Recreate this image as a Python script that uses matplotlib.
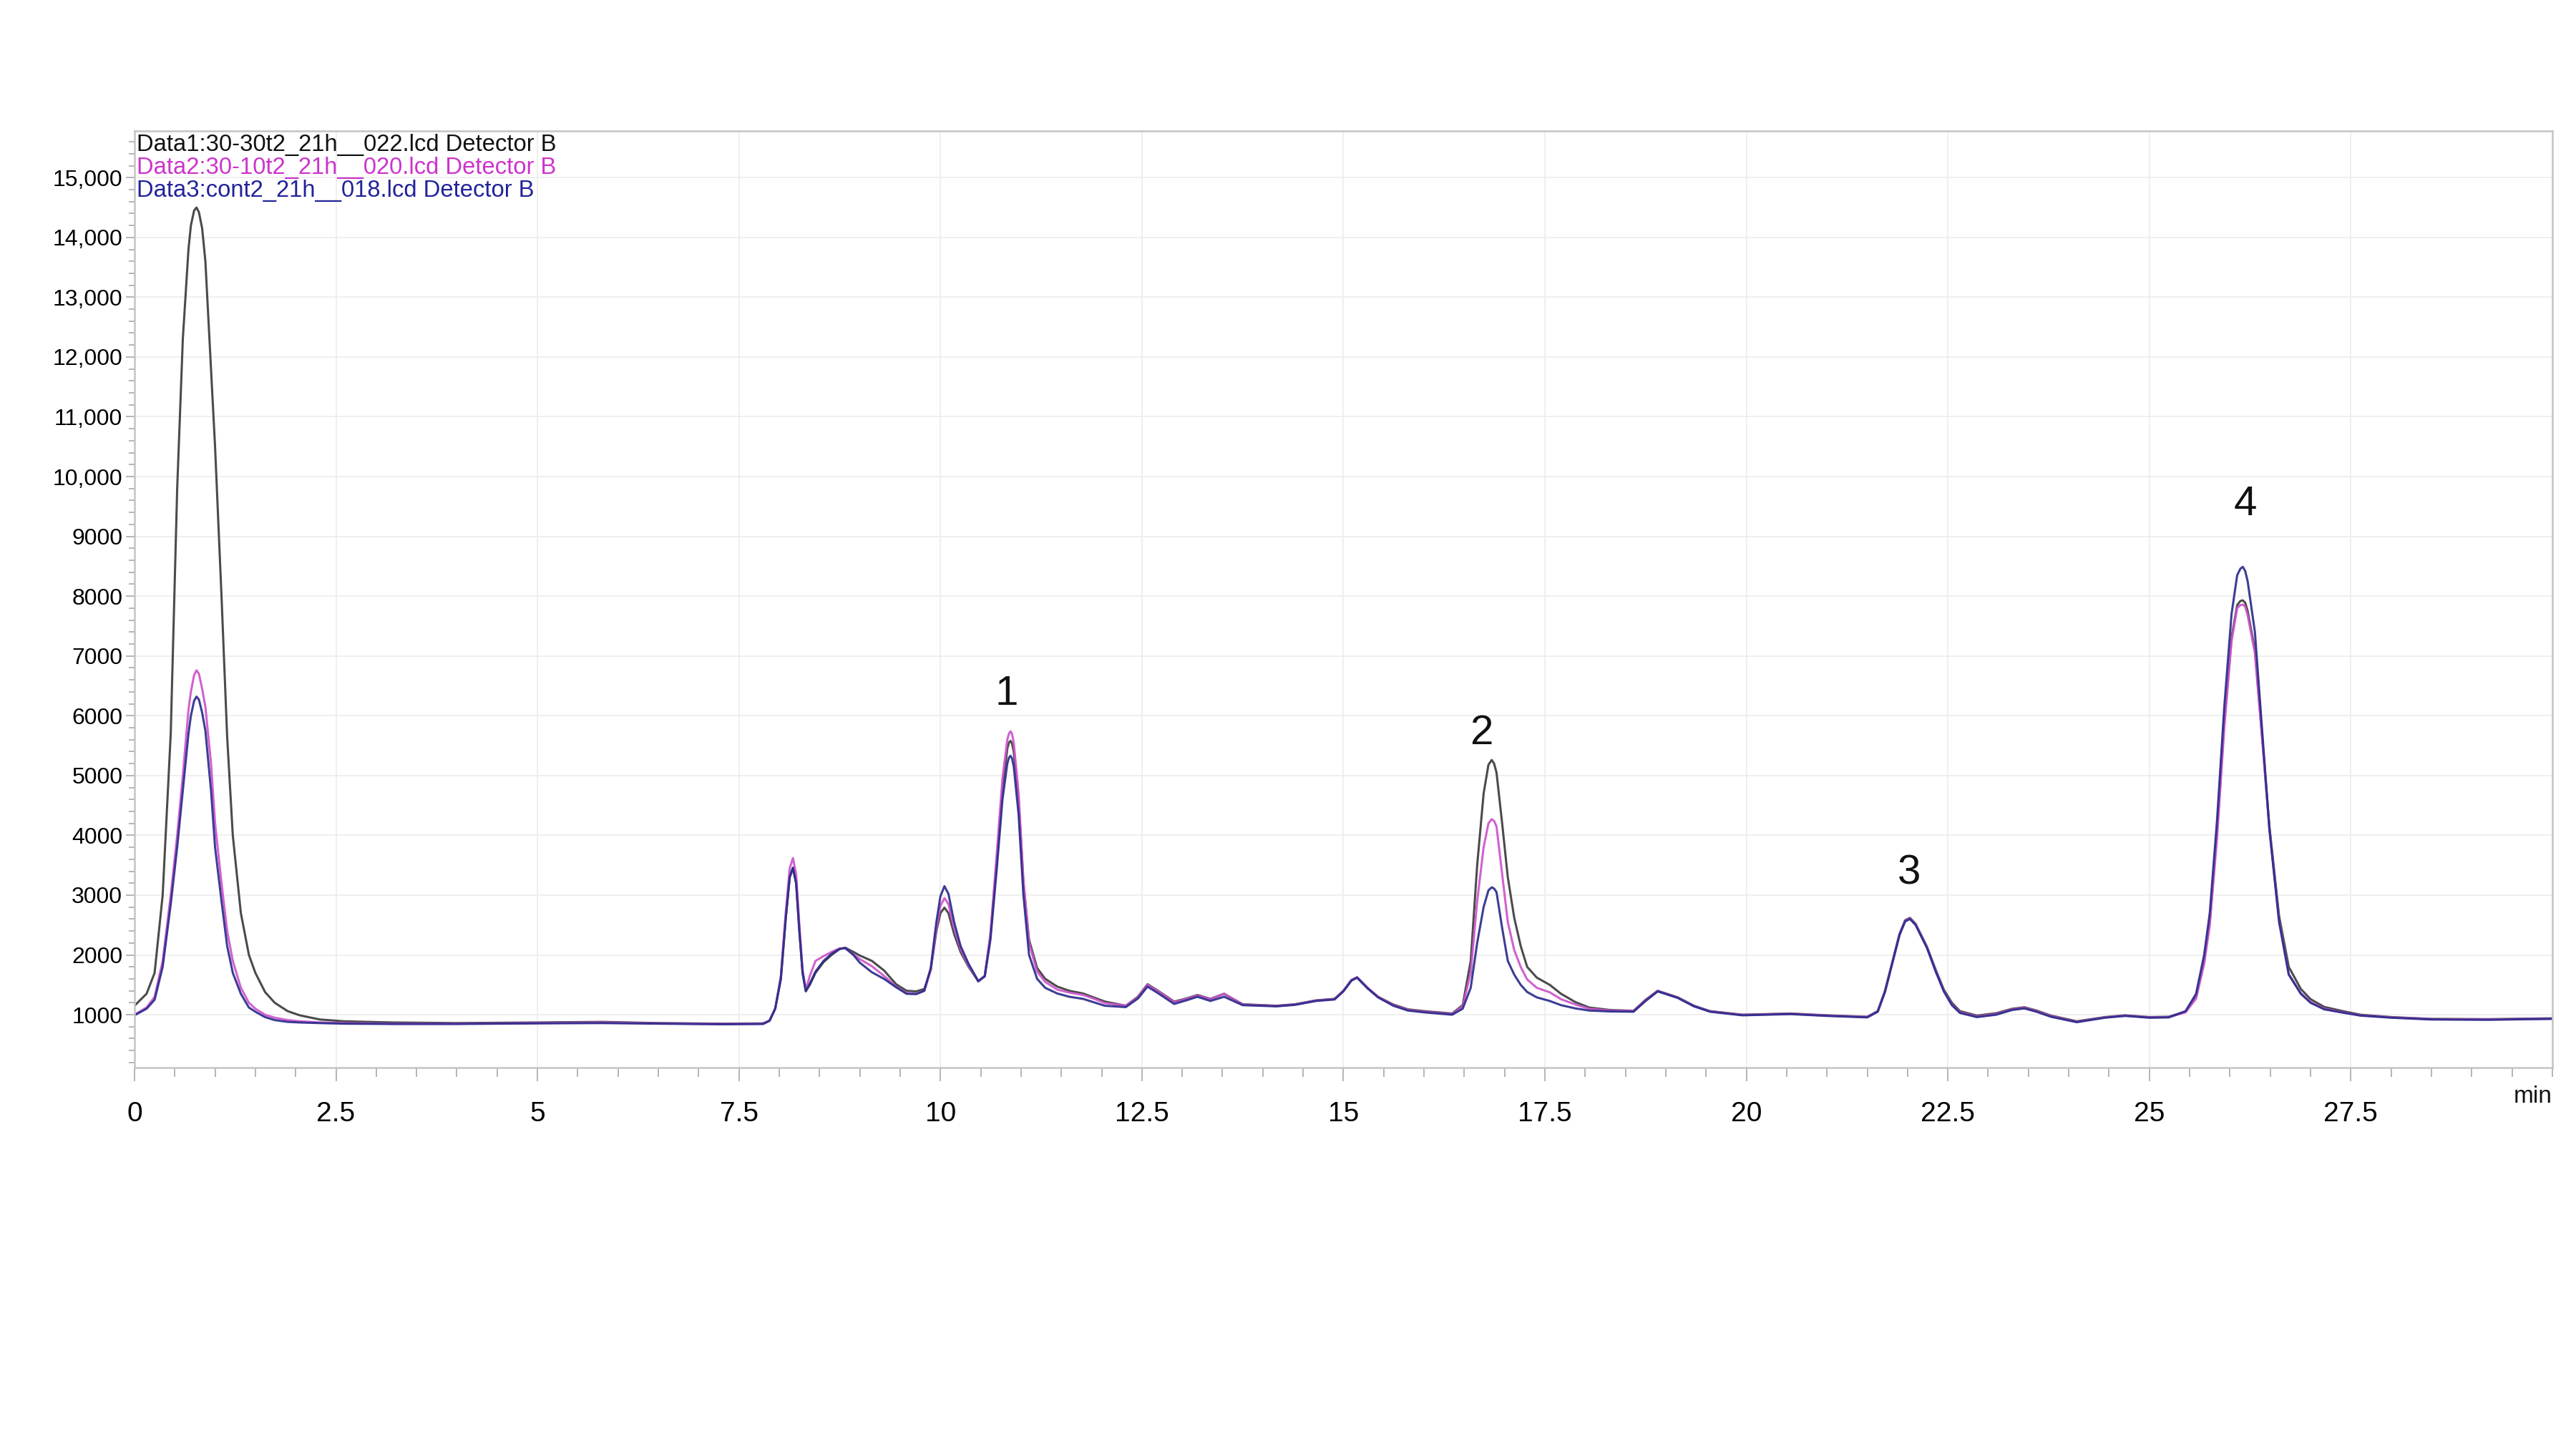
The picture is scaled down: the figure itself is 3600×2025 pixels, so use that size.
import matplotlib
matplotlib.use("Agg")
import matplotlib.pyplot as plt
from matplotlib.ticker import MultipleLocator, FuncFormatter

plt.rcParams['font.family'] = ['Liberation Sans', 'DejaVu Sans']

# retention time (min)
time = [0.0, 0.15, 0.25, 0.35, 0.45, 0.53, 0.60, 0.67, 0.70, 0.74, 0.77, 0.80, 0.84, 0.88, 0.95, 1.0,
        1.08, 1.15, 1.22, 1.32, 1.42, 1.5, 1.62, 1.74, 1.9, 2.05, 2.3, 2.6, 3.2, 4.0, 5.0,
        5.8, 6.5, 7.3, 7.8, 7.88, 7.95, 8.02, 8.08, 8.13, 8.17, 8.21, 8.25, 8.29, 8.33,
        8.38, 8.45, 8.55, 8.65, 8.75, 8.82, 8.92, 9.0, 9.15, 9.3, 9.45, 9.58, 9.7, 9.8,
        9.88, 9.95, 10.0, 10.05, 10.1, 10.17, 10.25, 10.35, 10.47, 10.55, 10.62, 10.7,
        10.77, 10.83, 10.85, 10.87, 10.89, 10.91, 10.97, 11.03, 11.1, 11.2, 11.3, 11.45, 11.6, 11.77,
        11.9, 12.04, 12.3, 12.45, 12.57, 12.7, 12.9, 13.05, 13.19, 13.35, 13.52, 13.75,
        14.17, 14.4, 14.66, 14.89, 15.0, 15.1, 15.17, 15.3, 15.43, 15.62, 15.8, 16.0,
        16.35, 16.48, 16.58, 16.66, 16.74, 16.8, 16.84, 16.87, 16.9, 16.97, 17.04, 17.12, 17.2,
        17.28, 17.4, 17.56, 17.7, 17.88, 18.05, 18.3, 18.6, 18.75, 18.9, 19.15, 19.35,
        19.55, 19.95, 20.55, 21.0, 21.5, 21.63, 21.72, 21.8, 21.9, 21.97, 22.03, 22.1,
        22.24, 22.35, 22.45, 22.55, 22.65, 22.86, 23.1, 23.3, 23.45, 23.6, 23.78, 24.1,
        24.45, 24.7, 25.0, 25.24, 25.45, 25.58, 25.68, 25.75, 25.84, 25.93, 26.02, 26.09,
        26.13, 26.16, 26.19, 26.22, 26.31, 26.4, 26.49, 26.61, 26.73, 26.88, 27.0, 27.17, 27.4, 27.62,
        28.0, 28.5, 29.2, 30.0]

data1 = [1150, 1350, 1700, 3000, 5700, 9800, 12300, 13800, 14200, 14450, 14500, 14420, 14150, 13600, 11800, 10500,
         8000, 5650, 4000, 2700, 2000, 1700, 1380, 1200, 1060, 990, 920, 890, 870, 860, 870,
         880, 860, 850, 855, 900, 1100, 1600, 2600, 3300, 3450, 3200, 2400, 1700, 1400,
         1500, 1700, 1880, 2000, 2100, 2120, 2050, 1990, 1900, 1740, 1510, 1400, 1390, 1430,
         1750, 2400, 2700, 2790, 2700, 2350, 2050, 1800, 1560, 1650, 2300, 3600,
         4800, 5450, 5550, 5580, 5530, 5400, 4600, 3200, 2250, 1780, 1600, 1470, 1400, 1355,
         1290, 1220, 1150, 1300, 1510, 1400, 1220, 1270, 1330, 1265, 1350, 1175,
         1150, 1175, 1240, 1265, 1400, 1580, 1625, 1450, 1300, 1170, 1090, 1060,
         1020, 1160, 1900, 3500, 4700, 5180, 5260, 5200, 5050, 4200, 3300, 2620, 2150,
         1800, 1620, 1500, 1350, 1210, 1120, 1080, 1065, 1250, 1400, 1290, 1150,
         1060, 1000, 1020, 990, 965, 1060, 1400, 1820, 2350, 2580, 2620, 2520,
         2140, 1750, 1420, 1200, 1060, 985, 1025, 1100, 1125, 1070, 985, 890,
         960, 990, 960, 965, 1050, 1300, 1900, 2550, 4050, 5900, 7300, 7850,
         7920, 7930, 7890, 7750, 7100, 5650, 4150, 2650, 1800, 1430, 1260, 1130, 1060, 1000,
         960, 930, 925, 940]

data2 = [1000, 1120, 1300, 1900, 3000, 4000, 5000, 6100, 6400, 6680, 6760, 6700, 6450, 6150, 5200, 4200,
         3200, 2400, 1900, 1450, 1200, 1100, 1000, 950, 910, 890, 870, 860, 850, 850, 860,
         870, 855, 845, 850, 900, 1100, 1650, 2700, 3450, 3620, 3350, 2500, 1750, 1420,
         1650, 1900, 1980, 2050, 2110, 2110, 2010, 1930, 1810, 1650, 1470, 1360, 1350, 1400,
         1750, 2450, 2820, 2950, 2850, 2450, 2100, 1820, 1560, 1650, 2350, 3700,
         4950, 5600, 5700, 5740, 5690, 5550, 4700, 3250, 2200, 1720, 1550, 1420, 1370, 1330,
         1270, 1195, 1150, 1290, 1500, 1390, 1210, 1260, 1320, 1260, 1350, 1170,
         1145, 1170, 1235, 1260, 1400, 1580, 1625, 1450, 1300, 1160, 1080, 1050,
         1010, 1140, 1700, 2900, 3800, 4200, 4270, 4240, 4150, 3350, 2550, 2080, 1800,
         1590, 1450, 1375, 1260, 1170, 1100, 1070, 1060, 1240, 1395, 1285, 1145,
         1055, 995, 1015, 985, 960, 1055, 1390, 1810, 2340, 2570, 2610, 2510,
         2130, 1730, 1400, 1170, 1040, 970, 1010, 1090, 1115, 1060, 975, 880,
         955, 985, 955, 960, 1040, 1270, 1850, 2500, 3950, 5800, 7250, 7800,
         7850, 7860, 7820, 7680, 7050, 5600, 4100, 2580, 1680, 1360, 1210, 1100, 1040, 990,
         955, 925, 920, 935]

data3 = [990, 1100, 1250, 1800, 2850, 3800, 4750, 5700, 6000, 6250, 6320, 6270, 6050, 5750, 4750, 3800,
         2900, 2150, 1700, 1350, 1120, 1050, 960, 910, 880, 870, 860, 850, 845, 845, 855,
         860, 850, 840, 845, 900, 1100, 1600, 2600, 3300, 3460, 3200, 2400, 1700, 1390,
         1520, 1720, 1900, 2020, 2100, 2115, 2000, 1870, 1710, 1600, 1460, 1350, 1345, 1400,
         1780, 2550, 2980, 3150, 3020, 2550, 2150, 1850, 1560, 1640, 2250, 3450,
         4600, 5200, 5300, 5330, 5280, 5150, 4350, 3000, 2000, 1600, 1450, 1355, 1300, 1265,
         1210, 1150, 1127, 1270, 1470, 1360, 1180, 1240, 1300, 1230, 1300, 1160,
         1140, 1165, 1230, 1255, 1390, 1570, 1620, 1440, 1290, 1150, 1070, 1040,
         1000, 1100, 1450, 2200, 2800, 3080, 3130, 3110, 3050, 2450, 1900, 1670, 1500,
         1380, 1290, 1230, 1160, 1105, 1070, 1055, 1050, 1230, 1390, 1280, 1140,
         1050, 990, 1010, 980, 955, 1050, 1380, 1800, 2330, 2560, 2600, 2500,
         2120, 1720, 1390, 1160, 1030, 960, 1000, 1080, 1105, 1050, 965, 875,
         950, 980, 950, 955, 1060, 1350, 2000, 2700, 4250, 6150, 7700, 8350,
         8460, 8490, 8420, 8250, 7400, 5750, 4100, 2550, 1670, 1350, 1200, 1090, 1035, 985,
         950, 920, 915, 930]

series_names = ["Data1:30-30t2_21h__022.lcd Detector B",
                "Data2:30-10t2_21h__020.lcd Detector B",
                "Data3:cont2_21h__018.lcd Detector B"]
line_colors = ["#3c3c3c", "#cc55cc", "#2c2c8c"]
text_colors = ["#111111", "#cc33cc", "#22229a"]

peak_labels = ["1", "2", "3", "4"]
peak_label_pos = [(10.82, 6360), (16.71, 5710), (22.02, 3360), (26.19, 9530)]


def y_fmt(v, pos):
    v = int(round(v))
    if v >= 10000:
        return "{:,}".format(v)
    return str(v)


fig = plt.figure(figsize=(18, 10.125), dpi=200)
ax = fig.add_axes([0.0522, 0.2632, 0.9386, 0.6464])

for vals, col in zip([data1, data2, data3], line_colors):
    ax.plot(time, vals, color=col, lw=1.1, alpha=0.92)

ax.set_xlim(0, 30)
ax.set_ylim(115, 15780)

ax.xaxis.set_minor_locator(MultipleLocator(0.5))
ax.yaxis.set_minor_locator(MultipleLocator(200))
ax.xaxis.set_major_formatter(FuncFormatter(lambda v, p: "{:g}".format(v)))
ax.yaxis.set_major_formatter(FuncFormatter(y_fmt))

ax.set_xticks([0, 2.5, 5, 7.5, 10, 12.5, 15, 17.5, 20, 22.5, 25, 27.5])
ax.set_yticks(range(1000, 15001, 1000))

ax.grid(True, which="major", color="#ececec", lw=0.6)
ax.set_axisbelow(True)

for sp in ax.spines.values():
    sp.set_color("#c4c4c4")
    sp.set_linewidth(0.9)

ax.tick_params(axis="x", which="major", direction="out", length=7, width=0.6,
               color="#a8a8a8", labelsize=14, pad=10)
ax.tick_params(axis="x", which="minor", direction="out", length=4.5, width=0.6,
               color="#a8a8a8")
ax.tick_params(axis="y", which="major", direction="out", length=4.5, width=0.6,
               color="#a8a8a8", labelsize=11.5, pad=1.5)
ax.tick_params(axis="y", which="minor", direction="out", length=2.8, width=0.6,
               color="#a8a8a8")

# legend lines at top-left, like the LabSolutions export
for i, (name, col) in enumerate(zip(series_names, text_colors)):
    ax.text(0.001, 0.985 - i * 0.0245, name, color=col, fontsize=11.8,
            ha="left", va="center", transform=ax.transAxes)

for lab, (px, py) in zip(peak_labels, peak_label_pos):
    ax.text(px, py, lab, fontsize=21, ha="center", va="center", color="#111111")

ax.text(1.0, -0.031, "min", fontsize=12, ha="right", va="center",
        transform=ax.transAxes, color="#111111")

fig.savefig("out.png", dpi=200, facecolor="white")
